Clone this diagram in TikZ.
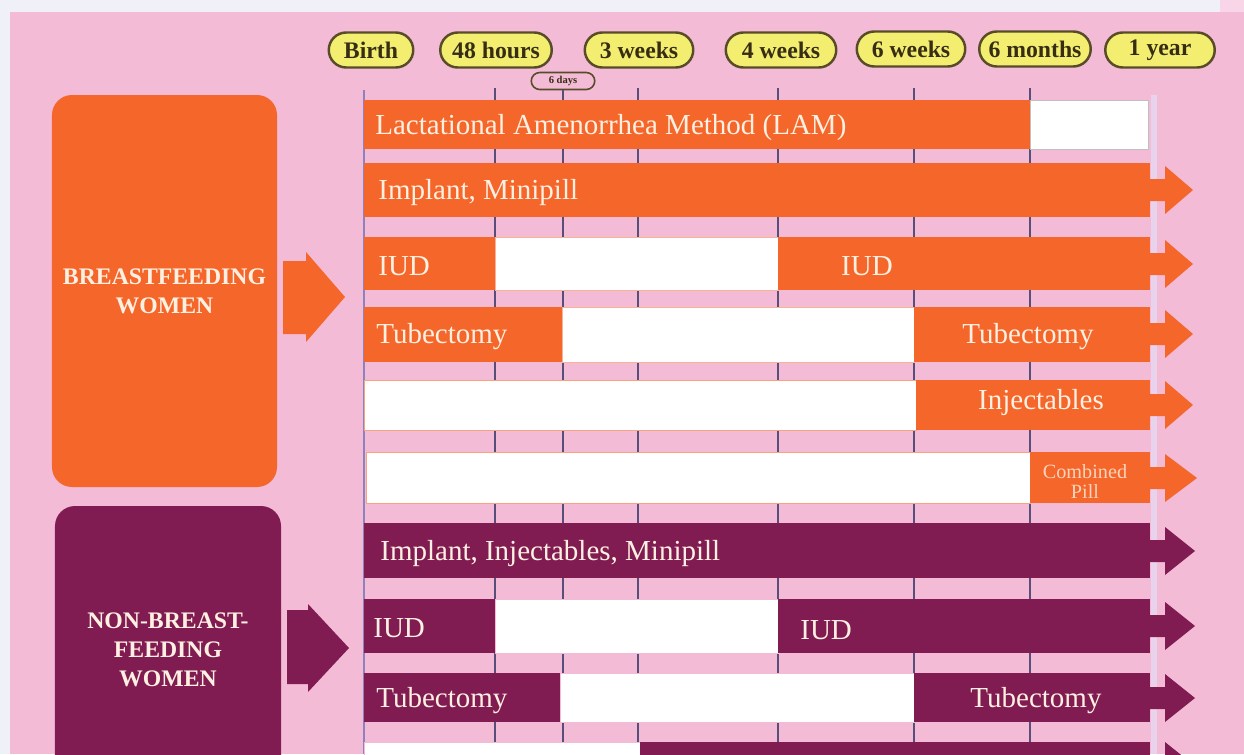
\documentclass[tikz,border=0pt]{standalone}
\usepackage{fontspec}
\setmainfont{Liberation Serif}
\usetikzlibrary{positioning,shapes.misc}

\definecolor{bgpink}{RGB}{244,187,214}
\definecolor{bgwhite}{RGB}{240,240,248}
\definecolor{bforange}{RGB}{244,102,42}
\definecolor{nbpurple}{RGB}{128,28,82}
\definecolor{pillyellow}{RGB}{243,238,112}
\definecolor{pillline}{RGB}{88,76,40}
\definecolor{pilltext}{RGB}{55,45,20}
\definecolor{cream}{RGB}{255,240,226}
\definecolor{colline}{RGB}{88,78,122}
\definecolor{axisline}{RGB}{140,130,190}
\definecolor{yearline}{RGB}{232,210,236}

\begin{document}
\begin{tikzpicture}[
  x=0.2mm, y=-0.2mm,
  pill/.style={rounded rectangle, draw=pillline, line width=1.4pt, fill=pillyellow,
    text=pilltext, font=\bfseries\fontsize{13.5}{15}\selectfont,
    minimum height=7mm, minimum width=#1, inner sep=1pt},
  coltick/.style={draw=colline, line width=1pt},
  barlabel/.style={text=cream, font=\fontsize{16.5}{18}\selectfont, inner sep=0pt,
    yshift=-0.5mm},
  groupbox/.style={rounded corners=4mm, text=cream, align=center,
    font=\bfseries\fontsize{13.5}{16.5}\selectfont},
  gapbox/.style={fill=white, draw=#1, line width=0.4pt}
]%
  \useasboundingbox (0,0) rectangle (1244,754);
  \clip (0,0) rectangle (1244,754);

  % Background
  \fill[bgwhite] (0,0) rectangle (1244,754);
  \fill[bgpink] (10,12) rectangle (1244,754);
  \fill[bgpink!60!white] (1220,0) rectangle (1244,12);
  \coordinate (chartfoot) at (0,754);

  % Time marks
  \node[pill=17.6mm] (birth) at (371,50) {Birth};
  \node[pill=23mm] (h48) at (496,50) {48 hours};
  \node[pill=22.4mm] (w3) at (639,50) {3 weeks};
  \node[pill=22.8mm] (w4) at (781,50) {4 weeks};
  \node[pill=22.4mm] (w6) at (911,49) {6 weeks};
  \node[pill=23mm] (m6) at (1035,49) {6 months};
  \node[pill=22.6mm] (y1) at (1160,50) {1 year};
  \node[pill=13.4mm, minimum height=3.4mm, fill=bgpink, line width=0.9pt,
    font=\bfseries\fontsize{6}{7}\selectfont] (d6) at (563,81) {6 days};

  % Column lines
  \draw[coltick, draw=axisline] (364,90) -- (364,754);
  \draw[coltick] (495,88) -- (495,754);
  \draw[coltick] (d6.south) -- (d6.south |- chartfoot);
  \draw[coltick] (638,88) -- (638,754);
  \draw[coltick] (778,88) -- (778,754);
  \draw[coltick] (914,88) -- (914,754);
  \draw[coltick] (1030,88) -- (1030,754);
  \draw[yearline, line width=3.4pt] (1154,95) -- (1154,754);

  % Breastfeeding bars
  \fill[bforange] (364,100) rectangle (1030,149);
  \filldraw[gapbox=gray!50] (1030,100) rectangle (1148,149);

  \fill[bforange] (364,163) rectangle (1150,217);

  \fill[bforange] (364,237) rectangle (495,290);
  \filldraw[gapbox=bforange!50] (495,237) rectangle (778,290);
  \fill[bforange] (778,237) rectangle (1150,290);

  \fill[bforange] (364,307) rectangle (562,362);
  \filldraw[gapbox=bforange!50] (562,307) rectangle (914,362);
  \fill[bforange] (914,307) rectangle (1150,362);

  \filldraw[gapbox=bforange!60] (364,380) rectangle (916,430);
  \fill[bforange] (916,380) rectangle (1150,430);

  \filldraw[gapbox=bforange!60] (366,452) rectangle (1030,503);
  \fill[bforange] (1030,452) rectangle (1150,503);

  % Non-breastfeeding bars
  \fill[nbpurple] (364,523) rectangle (1150,578);

  \fill[nbpurple] (364,599) rectangle (495,653);
  \filldraw[gapbox=bgpink] (495,599) rectangle (778,653);
  \fill[nbpurple] (778,599) rectangle (1150,653);

  \fill[nbpurple] (364,673) rectangle (560,722);
  \filldraw[gapbox=bgpink] (560,673) rectangle (914,722);
  \fill[nbpurple] (914,673) rectangle (1150,722);

  \filldraw[gapbox=bgpink] (364,742) rectangle (640,800);
  \fill[nbpurple] (640,742) rectangle (1150,800);

  % Bar heads
  \fill[bforange] (1148,179) -- ++(17,0) -- ++(0,-13) -- ++(28,24) -- ++(-28,24) -- ++(0,-13) -- ++(-17,0) -- cycle;
  \fill[bforange] (1148,253) -- ++(17,0) -- ++(0,-13) -- ++(28,24) -- ++(-28,24) -- ++(0,-13) -- ++(-17,0) -- cycle;
  \fill[bforange] (1148,323) -- ++(17,0) -- ++(0,-13) -- ++(28,24) -- ++(-28,24) -- ++(0,-13) -- ++(-17,0) -- cycle;
  \fill[bforange] (1148,394) -- ++(17,0) -- ++(0,-13) -- ++(28,24) -- ++(-28,24) -- ++(0,-13) -- ++(-17,0) -- cycle;
  \fill[bforange] (1148,467) -- ++(17,0) -- ++(0,-13) -- ++(32,24) -- ++(-32,24) -- ++(0,-13) -- ++(-17,0) -- cycle;
  \fill[nbpurple] (1148,540) -- ++(17,0) -- ++(0,-13) -- ++(30,24) -- ++(-30,24) -- ++(0,-13) -- ++(-17,0) -- cycle;
  \fill[nbpurple] (1148,615) -- ++(17,0) -- ++(0,-13) -- ++(30,24) -- ++(-30,24) -- ++(0,-13) -- ++(-17,0) -- cycle;
  \fill[nbpurple] (1148,687) -- ++(17,0) -- ++(0,-13) -- ++(30,24) -- ++(-30,24) -- ++(0,-13) -- ++(-17,0) -- cycle;
  \fill[nbpurple] (1148,755) -- ++(17,0) -- ++(0,-13) -- ++(30,24) -- ++(-30,24) -- ++(0,-13) -- ++(-17,0) -- cycle;

  % Bar labels
  \node[barlabel, anchor=west] (lam) at (375,125) {Lactational Amenorrhea Method (LAM)};
  \node[barlabel, anchor=west] (bfimplant) at (378,190) {Implant, Minipill};
  \node[barlabel, anchor=west] (bfiuda) at (378,264) {IUD};
  \node[barlabel] (bfiudb) at (867,264) {IUD};
  \node[barlabel, anchor=west] (bftuba) at (376,334) {Tubectomy};
  \node[barlabel] (bftubb) at (1028,334) {Tubectomy};
  \node[barlabel] (bfinject) at (1041,400) {Injectables};
  \node[barlabel, align=center, text=cream!80!bforange,
    font=\fontsize{11.5}{11.5}\selectfont] (bfpill) at (1085,479) {Combined\\Pill};
  \node[barlabel, anchor=west] (nbimplant) at (380,551) {Implant, Injectables, Minipill};
  \node[barlabel, anchor=west] (nbiuda) at (373,626) {IUD};
  \node[barlabel, anchor=west] (nbiudb) at (800,628) {IUD};
  \node[barlabel, anchor=west] (nbtuba) at (376,698) {Tubectomy};
  \node[barlabel] (nbtubb) at (1036,698) {Tubectomy};

  % Groups
  \node[groupbox, fill=bforange, minimum width=45mm, minimum height=78.4mm]
    (bfbox) at (164.5,291) {BREASTFEEDING\\WOMEN};
  \node[groupbox, fill=nbpurple, minimum width=45.2mm, minimum height=57.6mm]
    (nbbox) at (168,650) {NON-BREAST-\\FEEDING\\WOMEN};

  \fill[bforange] (283,261) -- (306,261) -- (306,252) -- (345,297) -- (306,342) -- (306,334) -- (283,334) -- cycle;
  \fill[nbpurple] (287,610) -- (308,610) -- (308,604) -- (349,648) -- (308,692) -- (308,684) -- (287,684) -- cycle;
\end{tikzpicture}
\end{document}
